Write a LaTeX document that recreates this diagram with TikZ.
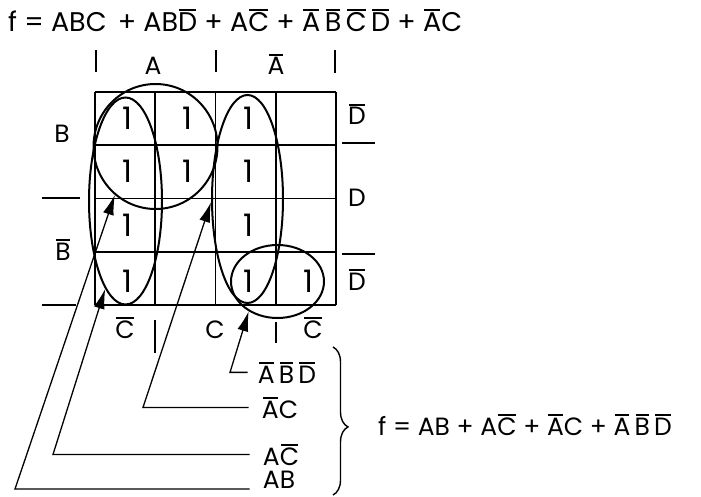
\documentclass[tikz,border=0pt]{standalone}
\usepackage{fontspec}
\setmainfont{Poppins}
\usetikzlibrary{arrows.meta,shapes.geometric,decorations.pathreplacing}
\newcommand\olb[1]{\leavevmode\setbox0\hbox{#1}\rlap{\hspace{1pt}\raisebox{0.76em}{\rule{\dimexpr\wd0-2pt\relax}{0.09em}}}\box0\relax}
\begin{document}
\begin{tikzpicture}[x=1pt,y=-1pt,
  lab/.style={inner sep=0pt, anchor=base, font=\fontsize{25}{30}\selectfont},
  formula/.style={inner sep=0pt, anchor=base west, font=\fontsize{25}{30}\selectfont},
  one/.style={inner sep=0pt, font=\fontsize{31}{36}\selectfont},
  loop/.style={draw, ellipse, line width=2pt, inner sep=0pt},
  gridline/.style={line width=1.7pt},
  conn/.style={line width=1.3pt},
  arr/.style={conn, -{Latex[length=20pt,width=11pt]}},
  tick/.style={line width=1.5pt}]
\useasboundingbox (0,0) rectangle (701,497);
% formulas
\node[formula, font=\fontsize{27}{32}\selectfont] (f1) at (8,32) {f = ABC \hspace{4pt}+ AB\olb{D} + A\olb{C} + \olb{A}\,\olb{B}\,\olb{C}\,\olb{D} + \olb{A}C};
\node[formula] (f2) at (378,435) {f = AB + A\olb{C} + \olb{A}C + \olb{A}\,\olb{B}\,\olb{D}};
% grid
\foreach \x in {95,155.25,215.5,275.75,336} \draw[gridline] (\x,92) -- (\x,305);
\foreach \y in {92,145.25,198.5,251.75,305} \draw[gridline] (95,\y) -- (336,\y);
% ones
\foreach \x/\y/\n in {127/118/a1,187/118/a2,248/118/a3,127/171/b1,187/171/b2,248/171/b3,127/225/c1,248/225/c3,127/281/d1,248/281/d3,308/281/d4}
  \node[one] (one\n) at (\x,\y) {1};
% ticks
\draw[tick] (96,50) -- (96,72);
\draw[tick] (216,50) -- (216,72);
\draw[tick] (335,50) -- (335,73);
\draw[tick] (42,198) -- (80,198);
\draw[tick] (42,305) -- (76,305);
\draw[tick] (342,143) -- (375,143);
\draw[tick] (342,254) -- (375,254);
\draw[tick] (155,320) -- (155,353);
\draw[tick] (276,322) -- (276,343);
% labels
\node[lab] (lA) at (153,75) {A};
\node[lab] (lAn) at (276,75) {\olb{A}};
\node[lab] (lB) at (62,143) {B};
\node[lab] (lBn) at (63,260) {\olb{B}};
\node[lab] (lD1) at (357,125) {\olb{D}};
\node[lab] (lD) at (357,207) {D};
\node[lab] (lD2) at (357,290) {\olb{D}};
\node[lab] (lC1) at (125,338) {\olb{C}};
\node[lab] (lC) at (215,338) {C};
\node[lab] (lC2) at (313,338) {\olb{C}};
\node[lab] (tABD) at (287,383) {\olb{A}\,\olb{B}\,\olb{D}};
\node[lab] (tAC1) at (280,418) {\olb{A}C};
\node[lab] (tAC2) at (281,465) {A\olb{C}};
\node[lab] (tAB) at (279,488) {AB};
% loops
\node[loop, minimum width=124pt, minimum height=125pt] (eAB) at (155.5,146.5) {};
\node[loop, minimum width=73pt, minimum height=207pt] (eAC1) at (125.5,201) {};
\node[loop, minimum width=71pt, minimum height=208pt] (eAC2) at (247.5,199) {};
\node[loop, minimum width=93pt, minimum height=73pt] (eABD) at (277.5,281.5) {};
% connectors
\coordinate (kAB) at (15,489);
\coordinate (kAC2) at (53,449);
\coordinate (kAC1) at (143,408);
\coordinate (kABD) at (230,372);
\draw[arr] ([xshift=-13pt]tAB.west |- kAB) -- (kAB) -- (eAB.230);
\draw[arr] ([xshift=-13pt]tAC2.west) -- (kAC2 |- tAC2.west) -- (eAC1.257);
\draw[arr] ([xshift=-13pt]tAC1.west) -- (kAC1 |- tAC1.west) -- (eAC2.185);
\draw[arr] ([xshift=-10pt]tABD.west) -- (kABD |- tABD.west) -- (eABD.226);
% brace
\coordinate (bt) at (333,347);
\coordinate (bb) at (333,495);
\draw[line width=1.4pt, decorate, decoration={brace, amplitude=15pt, aspect=0.54}] (bt) -- (bb);
\end{tikzpicture}
\end{document}
